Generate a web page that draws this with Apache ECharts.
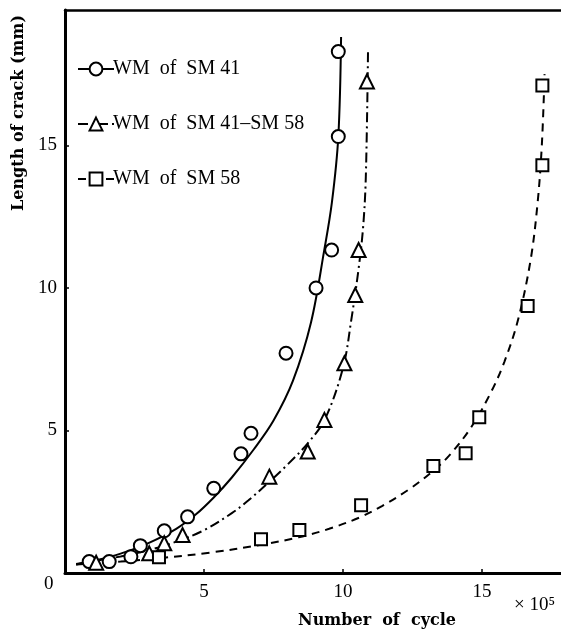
<!DOCTYPE html>
<html>
<head>
<meta charset="utf-8">
<script src="https://cdn.jsdelivr.net/npm/echarts@6/dist/echarts.min.js"></script>
<style>html,body{margin:0;padding:0;background:#fff;}#c{width:561px;height:642px;}</style>
</head>
<body>
<div id="c"></div>
<script>
// ---- data (x in 10^5 cycles, y in mm) ----
const seriesNames = ['WM  of  SM 41', 'WM  of  SM 41–SM 58', 'WM  of  SM 58'];
const xTickValues = [5, 10, 15];
const yTickValues = [5, 10, 15];

// measured points
const sm41X = [0.87, 1.59, 2.37, 2.71, 3.57, 4.41, 5.35, 6.33, 6.69, 7.95, 9.03, 9.59, 9.83, 9.83];
const sm41Y = [0.40, 0.40, 0.57, 0.96, 1.48, 1.97, 2.97, 4.18, 4.90, 7.71, 10.0, 11.33, 15.31, 18.29];
const mixX = [1.12, 3.03, 3.57, 4.23, 7.35, 8.73, 9.33, 10.05, 10.44, 10.56, 10.86];
const mixY = [0.36, 0.69, 1.04, 1.33, 3.38, 4.26, 5.37, 7.36, 9.75, 11.33, 17.24];
const sm58X = [3.38, 7.05, 8.43, 10.65, 13.25, 14.41, 14.9, 16.64, 17.17, 17.17];
const sm58Y = [0.55, 1.18, 1.51, 2.38, 3.75, 4.2, 5.46, 9.37, 14.3, 17.1];

// fitted curves
const sm41CurveX = [0.4, 1, 2, 3, 4, 4.7, 5.35, 6.0, 6.8, 7.5, 8.2, 8.85, 9.32, 9.6, 9.83, 9.93];
const sm41CurveY = [0.3, 0.42, 0.68, 1.05, 1.55, 2.05, 2.65, 3.35, 4.35, 5.35, 6.75, 8.8, 11.3, 13.0, 15.3, 18.8];
const mixCurveX = [0.4, 2, 3, 4, 5, 6, 6.6, 7.35, 8.0, 8.73, 9.35, 10.0, 10.3, 10.55, 10.72, 10.82, 10.9];
const mixCurveY = [0.32, 0.58, 0.8, 1.1, 1.5, 2.1, 2.55, 3.2, 3.8, 4.55, 5.4, 7.2, 8.9, 10.6, 12.1, 13.9, 18.4];
const sm58CurveX = [0.4, 2, 3.4, 5.25, 7.0, 8.4, 9.5, 10.6, 11.4, 12.4, 13.2, 13.8, 14.6, 15.3, 15.8, 16.3, 16.75, 17.0, 17.15, 17.25];
const sm58CurveY = [0.3, 0.4, 0.52, 0.72, 0.98, 1.25, 1.55, 1.95, 2.35, 2.95, 3.55, 4.1, 5.1, 6.3, 7.4, 8.9, 11.0, 13.0, 15.0, 17.5];

const zip = (xs, ys) => xs.map((x, i) => [x, ys[i]]);

const serif = 'Liberation Serif';
const markerStyle = {color: '#fff', borderColor: '#000', borderWidth: 2, opacity: 1};
const symbols = ['circle', 'triangle', 'rect'];
const symbolSizes = [13, 14, 12];
const dashTypes = ['solid', [10, 4, 2, 4], [8, 6]];
const curves = [zip(sm41CurveX, sm41CurveY), zip(mixCurveX, mixCurveY), zip(sm58CurveX, sm58CurveY)];
const points = [zip(sm41X, sm41Y), zip(mixX, mixY), zip(sm58X, sm58Y)];

const series = [];
for (let i = 0; i < 3; i++) {
  series.push({
    name: seriesNames[i], type: 'line', data: curves[i], smooth: 0.35,
    showSymbol: false, symbol: symbols[i], symbolSize: symbolSizes[i],
    itemStyle: markerStyle,
    lineStyle: {color: '#000', width: 2, type: dashTypes[i]},
    z: 2, silent: true, animation: false
  });
}
for (let i = 0; i < 3; i++) {
  series.push({
    name: seriesNames[i], type: 'scatter', data: points[i],
    symbol: symbols[i], symbolSize: symbolSizes[i],
    itemStyle: markerStyle, z: 3, animation: false,
    emphasis: {disabled: true}
  });
}

const chart = echarts.init(document.getElementById('c'), null, {renderer: 'canvas'});
chart.setOption({
  backgroundColor: '#fff',
  animation: false,
  grid: {left: 65, right: 0, top: 10, bottom: 69, containLabel: false},
  legend: {
    data: seriesNames, orient: 'vertical', left: 72, top: 54,
    itemWidth: 36, itemHeight: 16, itemGap: 35,
    textStyle: {fontFamily: serif, fontSize: 20, color: '#000', padding: [0, 0, 0, -6]},
    selectedMode: false
  },
  xAxis: [{
    type: 'value', min: 0, max: 17.84, interval: 5,
    name: 'Number  of  cycle', nameLocation: 'middle', nameGap: 40,
    nameTextStyle: {fontFamily: 'DejaVu Serif', fontWeight: 'bold', fontSize: 16, color: '#000', padding: [0, 0, 0, 128]},
    axisLine: {lineStyle: {color: '#000', width: 3}},
    axisTick: {inside: true, length: 4, lineStyle: {color: '#000', width: 1.5}},
    splitLine: {show: false},
    axisLabel: {
      margin: 10, fontFamily: serif, fontSize: 19, color: '#000',
      showMinLabel: false, showMaxLabel: false,
      formatter: v => xTickValues.includes(v) ? String(v) : ''
    }
  }, {
    type: 'value', position: 'top', min: 0, max: 17.84,
    axisLine: {show: true, lineStyle: {color: '#000', width: 2.5}},
    axisTick: {show: false}, axisLabel: {show: false}, splitLine: {show: false}
  }],
  yAxis: {
    type: 'value', min: 0, max: 19.75, interval: 5,
    name: 'Length of crack (mm)', nameLocation: 'middle', nameRotate: 90, nameGap: 33,
    nameTextStyle: {fontFamily: 'DejaVu Serif', fontWeight: 'bold', fontSize: 16, color: '#000', padding: [0, 0, 0, 357]},
    axisLine: {lineStyle: {color: '#000', width: 3}},
    axisTick: {inside: true, length: 4, lineStyle: {color: '#000', width: 1.5}},
    splitLine: {show: false},
    axisLabel: {
      margin: 8, fontFamily: serif, fontSize: 19, color: '#000',
      showMinLabel: false, showMaxLabel: false,
      formatter: v => yTickValues.includes(v) ? String(v) : ''
    }
  },
  graphic: [
    {type: 'text', left: 44, top: 575, style: {text: '0', font: '19px "Liberation Serif"', fill: '#000'}},
    {type: 'text', left: 514, top: 596, style: {text: '× 10⁵', font: '19px "Liberation Serif"', fill: '#000'}}
  ],
  series: series
});
</script>
</body>
</html>
